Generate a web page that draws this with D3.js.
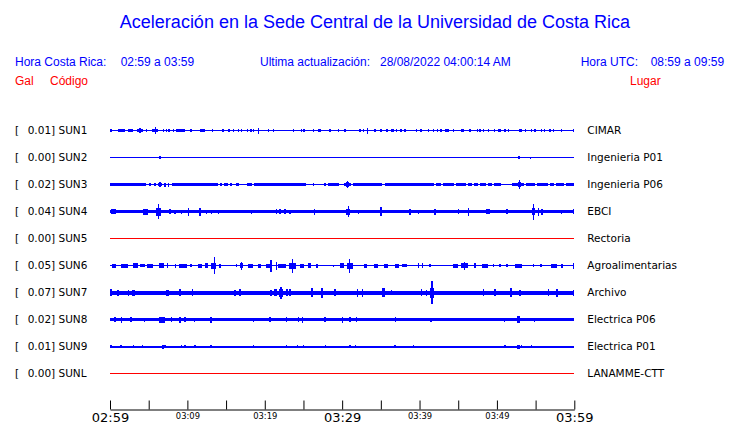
<!DOCTYPE html>
<html>
<head>
<meta charset="utf-8">
<script src="https://cdn.jsdelivr.net/npm/d3@7/dist/d3.min.js"></script>
<style>
  html, body { margin: 0; padding: 0; background: #fff; }
  svg { display: block; }
</style>
</head>
<body>
<svg id="chart" width="740" height="423"></svg>
<script>
// ---------------- DATA ----------------
const title = "Aceleración en la Sede Central de la Universidad de Costa Rica";
const horaCR = "02:59 a 03:59";
const horaUTC = "08:59 a 09:59";
const updated = "28/08/2022 04:00:14 AM";

const stations = ["SUN1", "SUN2", "SUN3", "SUN4", "SUN5", "SUN6", "SUN7", "SUN8", "SUN9", "SUNL"];
const pga = ["0.01", "0.00", "0.02", "0.04", "0.00", "0.05", "0.07", "0.02", "0.01", "0.00"];
const places = ["CIMAR", "Ingenieria P01", "Ingenieria P06", "EBCI", "Rectoria",
  "Agroalimentarias", "Archivo", "Electrica P06", "Electrica P01", "LANAMME-CTT"];
const offline = ["SUN5", "SUNL"];

// minutes after 02:59 at which axis ticks sit, and which ones carry labels
const tickMinutes = [0, 5, 10, 15, 20, 25, 30, 35, 40, 45, 50, 55, 60];
const majorLabels = [0, 30, 60];
const minorLabels = [10, 20, 40, 50];

// background (noise) amplitude of each trace
const baseAmp = [0.7, 0.5, 1.7, 1.7, 0.5, 0.7, 2.0, 1.7, 1.0, 0.5];
const quietAmp = 0.8;

// quieter stretches [start minute, end minute]
const quiet = {
  SUN3: [[4.70, 5.04], [5.30, 5.64], [5.90, 6.16], [6.68, 7.97], [13.92, 14.26], [14.52, 14.78],
         [15.21, 15.47], [15.81, 16.24], [16.67, 17.71], [18.40, 18.66], [25.38, 26.24],
         [26.41, 27.62], [27.96, 28.22], [29.60, 30.20], [31.15, 31.41], [35.20, 35.55],
         [41.92, 42.18], [42.78, 43.04], [44.51, 44.77], [46.06, 46.32], [46.83, 47.09],
         [47.52, 47.78], [48.56, 48.82], [49.42, 49.68], [50.54, 51.92], [53.47, 53.73],
         [54.93, 55.19], [56.57, 56.83], [57.43, 57.69], [58.73, 58.99]]
};

// bursts: [minute, amplitude, duration in minutes]
const bursts = {
  SUN1: [[0.13, 1.5, 0.15], [1.46, 1.5, 0.95], [2.67, 1.5, 0.65], [3.88, 1.5, 0.86], [3.9, 2.2, 0.15],
         [4.74, 1.8, 0.15], [5.86, 1.5, 0.78], [5.86, 3.2, 0.2], [6.89, 1.8, 0.15], [7.32, 1.8, 0.15],
         [7.62, 1.8, 0.15], [8.18, 1.8, 0.15], [9.13, 1.5, 1.08], [10.47, 1.8, 0.2], [11.93, 1.5, 0.65],
         [13.22, 1.8, 0.15], [14.56, 1.5, 0.3], [15.38, 1.8, 0.15], [15.94, 1.8, 0.15], [16.58, 1.8, 0.15],
         [17.01, 1.8, 0.15], [17.79, 1.8, 0.15], [18.22, 1.5, 0.3], [18.52, 1.8, 0.15], [19.17, 3.0, 0.15],
         [20.46, 1.8, 0.15], [21.11, 1.8, 0.15], [23.69, 1.8, 0.15], [24.77, 1.8, 0.15], [25.07, 1.8, 0.15],
         [26.28, 1.8, 0.15], [27.10, 1.5, 0.35], [28.43, 1.5, 0.15], [29.51, 1.5, 0.15], [30.37, 1.8, 0.15],
         [32.31, 1.8, 0.15], [32.74, 1.8, 0.15], [33.30, 3.0, 0.15], [34.25, 1.8, 0.15], [35.02, 1.8, 0.15],
         [35.76, 1.8, 0.3], [36.49, 1.8, 0.3], [37.05, 1.8, 0.15], [37.61, 1.8, 0.15], [38.13, 1.5, 0.15],
         [39.63, 1.8, 0.15], [40.19, 1.8, 0.15], [41.14, 1.5, 0.15], [41.79, 1.8, 0.15], [42.35, 1.8, 0.15],
         [42.78, 1.8, 0.15], [43.51, 1.5, 0.5], [44.37, 1.8, 0.15], [45.54, 1.8, 0.3], [46.53, 1.8, 0.15],
         [47.52, 1.8, 0.15], [47.82, 1.5, 0.15], [48.25, 1.8, 0.15], [48.90, 1.5, 0.15], [49.67, 1.8, 0.15],
         [50.36, 1.8, 0.4], [51.05, 1.5, 0.15], [51.48, 1.5, 0.15], [53.03, 1.8, 0.4], [53.72, 1.8, 0.15],
         [54.50, 1.5, 0.15], [54.93, 1.8, 0.15], [55.79, 1.8, 0.15], [56.14, 1.8, 0.15], [56.87, 1.8, 0.15],
         [57.30, 1.8, 0.15], [58.38, 1.8, 0.15], [59.88, 1.8, 0.15]],
  SUN2: [[6.46, 1.5, 0.12], [52.86, 1.5, 0.12], [54.33, 1.0, 0.12]],
  SUN3: [[6.46, 2.5, 0.2], [7.10, 2.0, 0.12], [7.54, 2.0, 0.12], [30.72, 2.8, 0.4], [30.72, 3.2, 0.12],
         [52.91, 4.5, 0.12], [52.91, 2.4, 0.4]],
  SUN4: [[0.43, 2.5, 0.6], [4.61, 3.0, 0.6], [6.25, 4.0, 0.6], [6.25, 7.5, 0.15], [7.75, 2.5, 0.2],
         [8.40, 2.0, 0.15], [9.26, 2.0, 0.15], [10.12, 4.0, 0.15], [11.63, 4.0, 0.2], [12.50, 2.0, 0.15],
         [13.14, 2.0, 0.15], [14.00, 2.0, 0.15], [16.37, 1.8, 0.15], [17.45, 1.8, 0.15], [18.31, 2.0, 0.15],
         [21.54, 2.5, 0.2], [21.97, 2.5, 0.2], [22.62, 2.5, 0.3], [23.27, 2.0, 0.15], [26.41, 3.0, 0.15],
         [30.81, 3.0, 0.5], [30.81, 5.7, 0.15], [32.10, 2.0, 0.15], [35.03, 3.0, 0.3], [35.03, 4.5, 0.15],
         [38.78, 3.0, 0.2], [39.85, 2.0, 0.15], [42.01, 3.0, 0.3], [45.02, 2.5, 0.15], [46.32, 4.0, 0.2],
         [48.81, 2.5, 0.5], [51.27, 2.5, 0.2], [54.72, 3.5, 0.5], [54.72, 8.0, 0.15], [55.37, 4.0, 0.2],
         [55.80, 3.0, 0.2], [58.38, 2.0, 0.15], [59.89, 2.5, 0.15]],
  SUN5: [],
  SUN6: [[0.47, 2.0, 0.5], [1.90, 2.0, 0.9], [3.32, 2.2, 0.6], [4.18, 1.8, 0.6], [5.17, 2.0, 0.8],
         [6.68, 2.2, 0.7], [7.45, 2.5, 0.15], [8.49, 2.0, 0.2], [9.39, 2.0, 1.0], [10.47, 1.5, 0.15],
         [11.63, 2.0, 0.4], [12.49, 2.2, 0.4], [13.40, 3.0, 0.7], [13.47, 8.5, 0.15], [14.22, 2.0, 0.2],
         [16.37, 1.8, 0.15], [17.02, 2.5, 0.4], [17.02, 4.0, 0.15], [18.18, 2.0, 0.6], [19.30, 2.0, 0.4],
         [20.38, 2.0, 0.5], [20.81, 3.0, 0.3], [20.81, 6.0, 0.15], [21.54, 4.0, 0.15], [22.27, 2.0, 1.0],
         [23.57, 3.0, 1.0], [23.57, 7.0, 0.15], [24.82, 2.0, 0.5], [25.77, 2.5, 0.4], [26.76, 2.0, 0.2],
         [28.87, 1.0, 0.15], [30.00, 2.5, 0.5], [30.98, 3.0, 0.8], [30.98, 7.0, 0.15], [32.96, 2.0, 0.4],
         [34.42, 2.0, 0.5], [35.72, 2.0, 0.5], [37.10, 2.0, 0.5], [38.04, 1.8, 0.6], [39.85, 2.5, 0.15],
         [40.37, 2.5, 0.15], [41.36, 1.5, 0.15], [44.68, 2.0, 0.6], [45.80, 2.5, 0.9], [45.80, 4.0, 0.15],
         [47.18, 2.2, 0.2], [48.43, 2.0, 0.8], [49.55, 1.5, 0.15], [50.41, 1.8, 0.15], [51.27, 1.8, 0.2],
         [52.78, 2.0, 1.0], [54.72, 1.5, 0.15], [55.71, 1.8, 0.15], [57.35, 2.0, 0.7], [58.38, 2.0, 0.2],
         [59.89, 3.0, 0.15]],
  SUN7: [[0.13, 3.5, 0.15], [0.99, 3.0, 0.3], [2.37, 3.0, 0.2], [3.02, 3.0, 0.3], [7.45, 3.0, 0.4],
         [9.05, 3.5, 0.15], [10.64, 3.5, 0.15], [16.16, 3.0, 0.15], [16.80, 3.5, 0.2], [20.81, 3.0, 0.3],
         [21.33, 3.5, 0.4], [22.10, 4.0, 0.5], [22.10, 6.0, 0.15], [22.83, 3.5, 0.3], [23.27, 3.5, 0.2],
         [26.07, 4.5, 0.3], [27.40, 5.0, 0.2], [29.08, 3.5, 0.2], [32.01, 4.0, 0.2], [32.62, 4.0, 0.2],
         [35.33, 4.5, 0.3], [36.41, 2.5, 0.15], [40.28, 3.5, 0.2], [40.93, 3.0, 0.15], [41.58, 5.0, 0.5],
         [41.58, 11.5, 0.2], [48.25, 3.5, 0.2], [49.76, 3.5, 0.2], [51.83, 4.5, 0.3], [53.00, 3.0, 0.15],
         [56.66, 3.5, 0.2], [57.73, 4.0, 0.2], [59.89, 3.0, 0.2]],
  SUN8: [[0.65, 2.5, 0.2], [1.51, 3.0, 0.2], [2.71, 2.5, 0.2], [4.44, 2.0, 0.15], [6.76, 3.0, 0.8],
         [7.97, 2.5, 0.2], [9.05, 3.0, 0.3], [9.69, 2.5, 0.15], [10.90, 2.0, 0.15], [13.06, 3.0, 0.15],
         [18.53, 2.0, 0.15], [20.68, 2.5, 0.15], [22.83, 2.5, 0.15], [24.34, 2.5, 0.15], [24.86, 3.0, 0.2],
         [27.79, 2.5, 0.15], [30.03, 3.0, 0.15], [31.02, 2.5, 0.2], [31.88, 2.5, 0.15], [36.92, 2.5, 0.15],
         [41.49, 2.0, 0.15], [50.97, 2.0, 0.15], [52.78, 3.5, 0.3], [54.85, 2.0, 0.15]],
  SUN9: [[0.13, 1.5, 0.15], [1.42, 1.8, 0.2], [3.02, 1.5, 0.15], [4.18, 1.5, 0.15], [6.89, 2.0, 0.3],
         [7.11, 1.8, 0.15], [9.26, 1.8, 0.2], [9.69, 1.5, 0.15], [10.99, 1.5, 0.15], [13.06, 1.8, 0.15],
         [18.53, 1.5, 0.15], [22.83, 1.5, 0.15], [24.26, 1.5, 0.15], [24.99, 1.5, 0.15], [27.88, 1.5, 0.15],
         [31.02, 1.8, 0.15], [31.75, 1.5, 0.15], [36.84, 1.5, 0.15], [39.21, 1.5, 0.15], [51.06, 1.5, 0.2],
         [52.78, 2.0, 0.3], [53.21, 1.5, 0.15], [54.50, 1.5, 0.15]],
  SUNL: []
};

// ---------------- DRAWING ----------------
const svg = d3.select("#chart");
const blue = "#0000ff", red = "#ff0000";
const sans = "'Liberation Sans', Arial, Helvetica, sans-serif";
const dejavu = "'DejaVu Sans', sans-serif";

const t0 = new Date(2022, 7, 28, 2, 59, 0);
const tAt = m => new Date(t0.getTime() + m * 60000);
const x = d3.scaleTime().domain([tAt(0), tAt(60)]).range([110, 574.3]);
const row = d3.scaleBand().domain(stations).range([116.5, 386.5]);
const amp = d3.scaleLinear().domain([0, 10]).range([0, 10]);
const rowY = s => Math.round(row(s) + row.bandwidth() / 2);

// title + header
svg.append("text").attr("x", 375).attr("y", 28).attr("text-anchor", "middle")
  .attr("font-family", sans).attr("font-size", 18).attr("fill", blue).text(title);

const header = [
  [15, 66, "Hora Costa Rica:", blue], [120.7, 66, horaCR, blue],
  [260, 66, "Ultima actualización:", blue], [380, 66, updated, blue],
  [580.7, 66, "Hora UTC:", blue], [650.7, 66, horaUTC, blue],
  [15, 85, "Gal", red], [50, 85, "Código", red], [630, 85, "Lugar", red]
];
svg.selectAll("text.hdr").data(header).join("text").attr("class", "hdr")
  .attr("x", d => d[0]).attr("y", d => d[1]).attr("font-family", sans)
  .attr("font-size", 12).attr("fill", d => d[3]).text(d => d[2]);

// left labels
const left = svg.append("g").attr("font-family", dejavu).attr("font-size", 10.5).attr("fill", "#000");
stations.forEach((s, i) => {
  left.append("text").attr("x", 15).attr("y", rowY(s) + 4).text("[");
  left.append("text").attr("x", 27.7).attr("y", rowY(s) + 4).text(pga[i] + "] " + s);
  left.append("text").attr("x", 587.3).attr("y", rowY(s) + 4).text(places[i]);
});

// traces
const traces = svg.append("g").attr("shape-rendering", "crispEdges");
stations.forEach((s, i) => {
  const col = offline.includes(s) ? red : blue;
  const g = traces.append("g").attr("fill", col);
  const yc = rowY(s);
  const b = baseAmp[i];
  const q = (quiet[s] || []).slice().sort((a, c) => a[0] - c[0]);
  // loud segments = complement of quiet ones
  const loud = [];
  let cur = 0;
  q.forEach(([a, c]) => { if (a > cur) loud.push([cur, a]); cur = Math.max(cur, c); });
  if (cur < 60) loud.push([cur, 60]);
  const band = (segs, a) => g.selectAll(null).data(segs).join("rect")
    .attr("x", d => x(tAt(d[0]))).attr("width", d => x(tAt(d[1])) - x(tAt(d[0])))
    .attr("y", yc + 0.5 - Math.max(0.5, amp(a))).attr("height", Math.max(1, 2 * amp(a)));
  band(loud, b);
  band(q, quietAmp);
  g.selectAll(null).data(bursts[s]).join("rect")
    .attr("x", d => x(tAt(d[0])) - Math.max(1.4, x(tAt(d[2])) - x(tAt(0))) / 2)
    .attr("width", d => Math.max(1.4, x(tAt(d[2])) - x(tAt(0))))
    .attr("y", d => yc + 0.5 - amp(d[1]))
    .attr("height", d => 2 * amp(d[1]));
});

// time axis
const axis = d3.axisBottom(x)
  .tickValues(tickMinutes.map(tAt))
  .tickSizeInner(-9).tickSizeOuter(0)
  .tickFormat(d3.timeFormat("%H:%M"));
const ax = svg.append("g").attr("transform", "translate(0,409.5)").call(axis);
ax.select(".domain").attr("stroke", "#000");
ax.selectAll(".tick line").attr("stroke", "#000");
ax.selectAll(".tick text").each(function (d) {
  const m = Math.round((d - t0) / 60000);
  const t = d3.select(this).attr("dy", null).attr("fill", "#000").attr("font-family", dejavu);
  if (majorLabels.includes(m)) t.attr("y", 12).attr("font-size", 13);
  else if (minorLabels.includes(m)) t.attr("y", 9).attr("font-size", 8.4);
  else t.remove();
});
</script>
</body>
</html>
